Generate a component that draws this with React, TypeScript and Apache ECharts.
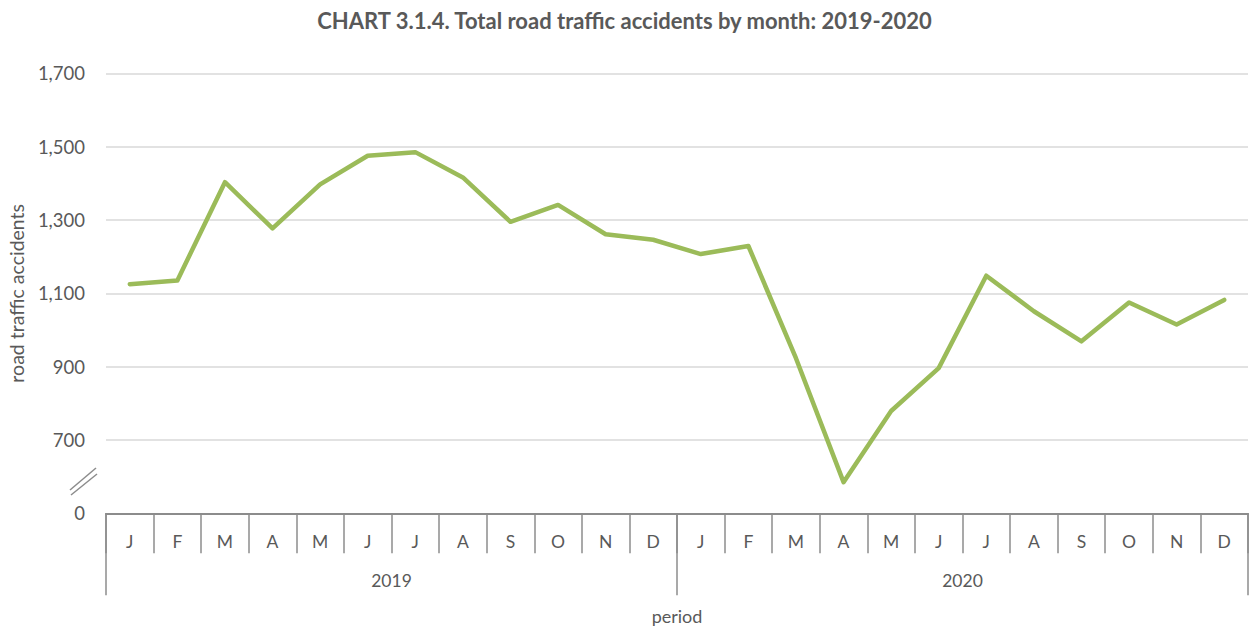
import React, { useEffect, useRef } from "react";
import * as echarts from "echarts";

const title = "CHART 3.1.4. Total road traffic accidents by month: 2019-2020";
const months = ["J", "F", "M", "A", "M", "J", "J", "A", "S", "O", "N", "D", "J", "F", "M", "A", "M", "J", "J", "A", "S", "O", "N", "D"];
const years = ["2019", "2020"];
const accidents = [1125, 1135, 1403, 1277, 1397, 1475, 1485, 1416, 1295, 1341, 1261, 1246, 1207, 1229, 923, 585, 779, 896, 1148, 1051, 969, 1075, 1015, 1082];
const yTicksShownAsZero = 500;

const FONT = "Lato, 'Open Sans', sans-serif";
const TEXT = "#595959";
const AXIS = "#8c8c8c";

export default function App() {
  const ref = useRef<HTMLDivElement>(null);
  useEffect(() => {
    if (!ref.current) return;
    const chart = echarts.init(ref.current, null, { renderer: "svg" });
    chart.setOption({
      animation: false,
      backgroundColor: "#ffffff",
      title: {
        text: title,
        left: "center",
        top: 4,
        textStyle: { fontFamily: FONT, fontWeight: "bold", fontSize: 22, color: TEXT },
      },
      grid: { left: 106, right: 1, top: 73.3, height: 440, containLabel: false, outerBoundsMode: "none" },
      xAxis: [
        {
          type: "category",
          data: months,
          position: "bottom",
          boundaryGap: true,
          axisLine: { show: true, lineStyle: { color: AXIS, width: 2 } },
          axisTick: { show: true, length: 40, interval: 0, lineStyle: { color: AXIS, width: 1.5 } },
          axisLabel: { interval: 0, margin: 19, fontFamily: FONT, fontSize: 17.5, color: TEXT },
          splitLine: { show: false },
        },
        {
          type: "category",
          data: years,
          position: "bottom",
          boundaryGap: true,
          axisLine: { show: false },
          axisTick: { show: true, length: 82, interval: 0, lineStyle: { color: AXIS, width: 1.5 } },
          axisLabel: { interval: 0, margin: 58, fontFamily: FONT, fontSize: 17.5, color: TEXT },
          name: "period",
          nameLocation: "middle",
          nameGap: 94,
          nameTextStyle: { fontFamily: FONT, fontSize: 18, color: TEXT },
        },
      ],
      yAxis: {
        type: "value",
        min: yTicksShownAsZero,
        max: 1700,
        interval: 200,
        name: "road traffic accidents",
        nameLocation: "middle",
        nameGap: 78,
        nameTextStyle: { fontFamily: FONT, fontSize: 19.5, color: TEXT },
        axisLine: { show: false },
        axisTick: { show: false },
        axisLabel: {
          margin: 21,
          fontFamily: FONT,
          fontSize: 18.5,
          color: TEXT,
          formatter: (v: number) => (v === yTicksShownAsZero ? "0" : v.toLocaleString("en-US")),
        },
        splitLine: {
          show: true,
          lineStyle: { color: "#d9d9d9", width: 1.5 },
        },
      },
      graphic: [
        { type: "line", shape: { x1: 70, y1: 490, x2: 96, y2: 468 }, style: { stroke: AXIS, lineWidth: 1.5 } },
        { type: "line", shape: { x1: 71, y1: 495, x2: 97, y2: 474 }, style: { stroke: AXIS, lineWidth: 1.5 } },
      ],
      series: [
        {
          type: "line",
          data: accidents,
          xAxisIndex: 0,
          showSymbol: false,
          symbol: "none",
          lineStyle: { color: "#9bbb59", width: 4.5, cap: "round", join: "round" },
          z: 5,
        },
      ],
    });
    return () => chart.dispose();
  }, []);
  return <div ref={ref} style={{ position: "fixed", left: 0, top: 0, width: 1249, height: 628 }} />;
}
